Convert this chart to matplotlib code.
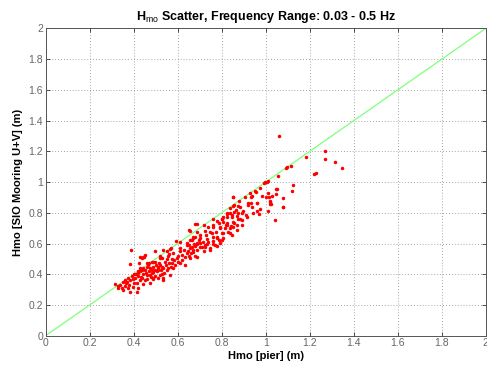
import matplotlib
matplotlib.use("Agg")
import matplotlib.pyplot as plt
import numpy as np

plt.rcParams['font.family'] = ['Liberation Sans', 'DejaVu Sans']
plt.rcParams['mathtext.fontset'] = 'custom'
plt.rcParams['mathtext.rm'] = 'Liberation Sans'
plt.rcParams['mathtext.bf'] = 'Liberation Sans:bold'

# Hmo (pier, SIO mooring) pairs, grouped by pier Hmo
band_030 = [(0.315, 0.335), (0.33, 0.313), (0.33, 0.326), (0.34, 0.33), (0.345, 0.31),
            (0.353, 0.298), (0.36, 0.326), (0.365, 0.34), (0.37, 0.35), (0.375, 0.309),
            (0.38, 0.33), (0.383, 0.287), (0.385, 0.36), (0.39, 0.558), (0.391, 0.391),
            (0.395, 0.37), (0.398, 0.319), (0.40, 0.345), (0.383, 0.465), (0.36, 0.36),
            (0.375, 0.375), (0.35, 0.35)]
band_040 = [(0.406, 0.374), (0.41, 0.40), (0.414, 0.341), (0.414, 0.283), (0.42, 0.39),
            (0.421, 0.406), (0.421, 0.313), (0.426, 0.475), (0.429, 0.363), (0.429, 0.514),
            (0.43, 0.42), (0.435, 0.38), (0.436, 0.504), (0.436, 0.374), (0.44, 0.43),
            (0.444, 0.40), (0.444, 0.335), (0.444, 0.439), (0.444, 0.514), (0.448, 0.514),
            (0.45, 0.36), (0.451, 0.428), (0.451, 0.525), (0.455, 0.41), (0.459, 0.369),
            (0.459, 0.395), (0.46, 0.45), (0.466, 0.46), (0.466, 0.465), (0.47, 0.42),
            (0.474, 0.395), (0.474, 0.341), (0.475, 0.44), (0.48, 0.38), (0.482, 0.428),
            (0.482, 0.482), (0.485, 0.41), (0.489, 0.369), (0.489, 0.374), (0.489, 0.417),
            (0.489, 0.482), (0.49, 0.45), (0.495, 0.43), (0.497, 0.482), (0.497, 0.391),
            (0.497, 0.551), (0.50, 0.46), (0.40, 0.40), (0.42, 0.42), (0.46, 0.47),
            (0.43, 0.44), (0.47, 0.47)]
band_050 = [(0.505, 0.42), (0.51, 0.44), (0.512, 0.428), (0.512, 0.378), (0.512, 0.449),
            (0.515, 0.47), (0.52, 0.46), (0.52, 0.508), (0.52, 0.395), (0.525, 0.43),
            (0.527, 0.504), (0.527, 0.40), (0.53, 0.45), (0.535, 0.439), (0.535, 0.374),
            (0.535, 0.363), (0.535, 0.558), (0.54, 0.41), (0.542, 0.482), (0.545, 0.46),
            (0.55, 0.428), (0.55, 0.50), (0.555, 0.44), (0.557, 0.521), (0.56, 0.47),
            (0.565, 0.564), (0.565, 0.395), (0.57, 0.45), (0.573, 0.471), (0.575, 0.50),
            (0.58, 0.536), (0.58, 0.439), (0.585, 0.49), (0.59, 0.46), (0.592, 0.617),
            (0.595, 0.504), (0.60, 0.52), (0.60, 0.48), (0.55, 0.55), (0.57, 0.57),
            (0.52, 0.52), (0.56, 0.53)]
band_060 = [(0.61, 0.573), (0.61, 0.471), (0.61, 0.612), (0.612, 0.55), (0.618, 0.525),
            (0.62, 0.49), (0.63, 0.56), (0.633, 0.46), (0.635, 0.51), (0.641, 0.536),
            (0.641, 0.59), (0.641, 0.601), (0.645, 0.55), (0.65, 0.52), (0.653, 0.59),
            (0.653, 0.688), (0.656, 0.504), (0.656, 0.569), (0.656, 0.623), (0.656, 0.684),
            (0.66, 0.54), (0.664, 0.579), (0.664, 0.623), (0.67, 0.56), (0.671, 0.547),
            (0.671, 0.638), (0.671, 0.645), (0.675, 0.60), (0.679, 0.584), (0.679, 0.645),
            (0.679, 0.727), (0.68, 0.52), (0.686, 0.514), (0.686, 0.601), (0.686, 0.597),
            (0.686, 0.677), (0.686, 0.725), (0.69, 0.56), (0.695, 0.62), (0.70, 0.58)]
band_070 = [(0.701, 0.605), (0.701, 0.634), (0.701, 0.656), (0.71, 0.58), (0.716, 0.612),
            (0.72, 0.55), (0.724, 0.579), (0.724, 0.59), (0.724, 0.684), (0.729, 0.656),
            (0.731, 0.628), (0.735, 0.60), (0.739, 0.612), (0.739, 0.706), (0.745, 0.56),
            (0.747, 0.569), (0.747, 0.677), (0.755, 0.671), (0.759, 0.645), (0.762, 0.597),
            (0.762, 0.618), (0.762, 0.706), (0.762, 0.721), (0.77, 0.59), (0.774, 0.677),
            (0.777, 0.584), (0.777, 0.645), (0.777, 0.749), (0.78, 0.634), (0.789, 0.732),
            (0.79, 0.62), (0.792, 0.605), (0.792, 0.699), (0.792, 0.71), (0.80, 0.623),
            (0.80, 0.667), (0.80, 0.758), (0.72, 0.72), (0.76, 0.76)]
band_080 = [(0.801, 0.758), (0.807, 0.634), (0.807, 0.667), (0.807, 0.742), (0.807, 0.775),
            (0.815, 0.70), (0.82, 0.721), (0.823, 0.775), (0.823, 0.792), (0.823, 0.797),
            (0.823, 0.721), (0.823, 0.732), (0.83, 0.677), (0.838, 0.671), (0.838, 0.699),
            (0.838, 0.797), (0.838, 0.829), (0.841, 0.714), (0.845, 0.656), (0.845, 0.775),
            (0.845, 0.786), (0.85, 0.90), (0.853, 0.71), (0.853, 0.742), (0.853, 0.844),
            (0.853, 0.901), (0.856, 0.803), (0.857, 0.736), (0.857, 0.851), (0.865, 0.818),
            (0.868, 0.688), (0.868, 0.721), (0.868, 0.779), (0.873, 0.76), (0.875, 0.797),
            (0.875, 0.844), (0.883, 0.758), (0.883, 0.836), (0.891, 0.721), (0.892, 0.753),
            (0.892, 0.797), (0.898, 0.814), (0.88, 0.88)]
band_090 = [(0.906, 0.901), (0.91, 0.784), (0.914, 0.775), (0.921, 0.853), (0.921, 0.866),
            (0.932, 0.862), (0.932, 0.901), (0.936, 0.84), (0.936, 0.909), (0.944, 0.797),
            (0.951, 0.944), (0.956, 0.937), (0.959, 0.814), (0.959, 0.862), (0.962, 0.862),
            (0.968, 0.792), (0.974, 0.96), (0.974, 0.823), (0.982, 0.909), (0.992, 0.996),
            (0.997, 0.999), (0.93, 0.93)]
band_100 = [(1.001, 0.901), (1.007, 1.003), (1.012, 1.009), (1.012, 0.927), (1.012, 0.814),
            (1.016, 0.905), (1.02, 0.872), (1.02, 0.879), (1.02, 0.857), (1.023, 0.855),
            (1.027, 0.909), (1.042, 0.753), (1.045, 0.922), (1.047, 0.953), (1.05, 0.953),
            (1.055, 1.042), (1.06, 1.302), (1.077, 0.84), (1.08, 0.898), (1.08, 0.84),
            (1.091, 1.09), (1.095, 1.10), (1.115, 1.107), (1.12, 0.942), (1.123, 0.981),
            (1.182, 1.161), (1.221, 1.055), (1.229, 1.061), (1.27, 1.20), (1.27, 1.15),
            (1.315, 1.133), (1.345, 1.094)]

pairs = band_030 + band_040 + band_050 + band_060 + band_070 + band_080 + band_090 + band_100
hmo_pier = np.array([p[0] for p in pairs])
hmo_sio = np.array([p[1] for p in pairs])

ticks = np.arange(0, 2.01, 0.2)
tick_labels = ['0', '0.2', '0.4', '0.6', '0.8', '1', '1.2', '1.4', '1.6', '1.8', '2']

fig = plt.figure(figsize=(4.87, 3.68), dpi=100)
ax = fig.add_axes([0.0938, 0.0878, 0.9035, 0.8348])

# 1:1 line
ax.plot([0, 2], [0, 2], color='#7dff7d', lw=0.9, zorder=2)
ax.plot(hmo_pier, hmo_sio, '.', color='red', markersize=3, zorder=3)

ax.set_xlim(0, 2)
ax.set_ylim(0, 2)
ax.set_xticks(ticks)
ax.set_yticks(ticks)
ax.set_xticklabels(tick_labels)
ax.set_yticklabels(tick_labels)
ax.tick_params(direction='in', length=3, width=0.6, labelsize=7.5, colors='#333333',
               labelcolor='#666666', top=True, right=True, pad=2)
ax.grid(True, linestyle=(0, (1, 2.5)), color='#888888', lw=0.6)
for s in ax.spines.values():
    s.set_color('#555555')
    s.set_linewidth(0.7)

ax.set_title(r'H$_{\mathrm{mo}}$ Scatter, Frequency Range: 0.03 - 0.5 Hz',
             fontsize=9, fontweight='bold', pad=6)
ax.set_xlabel('Hmo [pier] (m)', fontsize=8, fontweight='bold', labelpad=2)
ax.set_ylabel('Hmo [SIO Mooring U+V] (m)', fontsize=8, fontweight='bold', labelpad=4)

fig.savefig('out.png', dpi=100)
